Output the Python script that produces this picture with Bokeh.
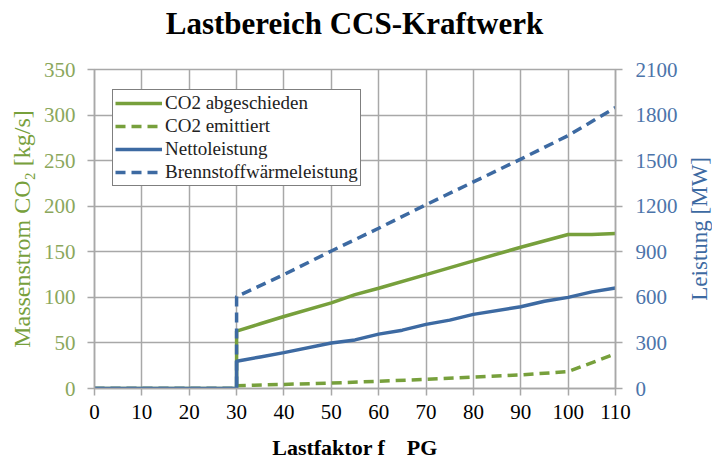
from bokeh.plotting import figure
from bokeh.models import (Range1d, LinearAxis, FixedTicker, Legend, LegendItem, Div)
from bokeh.layouts import column, row
from bokeh.embed import file_html
from bokeh.resources import INLINE

# ---- data ----
x_co2_sep = [0, 30, 30, 35, 40, 50, 55, 60, 70, 80, 90, 100, 105, 110]
co2_sep = [0, 0, 63, 71, 79, 94, 103, 110, 125, 140, 155, 169, 169, 170]  # kg/s

x_co2_emit = [0, 30, 30, 40, 50, 60, 70, 80, 90, 100, 110]
co2_emit = [0, 0, 3, 4.5, 6, 8, 10, 12.5, 15, 18.5, 38]  # kg/s

x_net = [0, 30, 30, 35, 40, 50, 55, 60, 65, 70, 75, 80, 90, 95, 100, 105, 110]
net_power = [0, 0, 180, 208, 236, 300, 320, 358, 384, 422, 450, 488, 538, 574, 600, 636, 662]  # MW

x_fuel = [0, 30, 30, 40, 50, 60, 70, 80, 90, 100, 110]
fuel_power = [0, 0, 605, 750, 905, 1055, 1210, 1360, 1510, 1665, 1850]  # MW

x_ticks = list(range(0, 111, 10))
left_ticks = list(range(0, 351, 50))
right_ticks = list(range(0, 2101, 300))

labels = ["CO2 abgeschieden", "CO2 emittiert", "Nettoleistung", "Brennstoffwärmeleistung"]
title_text = "Lastbereich CCS-Kraftwerk"
x_label = "Lastfaktor f\u00a0\u00a0\u00a0\u00a0PG"
left_label = "Massenstrom CO\u2082 [kg/s]"
right_label = "Leistung [MW]"

GREEN = "#77A03C"
BLUE = "#3D6AA2"
GREEN_TXT = "#8BA75C"
BLUE_TXT = "#4C74AA"
GRID = "#a8a8a8"
FONT = "Liberation Serif"

TITLE_H = 40
RIGHT_W = 30
FIG_W = 713 - RIGHT_W
FIG_H = 465 - TITLE_H

p = figure(width=FIG_W, height=FIG_H, frame_width=521, frame_height=319,
           min_border_left=94, min_border_right=FIG_W - 94 - 521,
           min_border_top=69 - TITLE_H, min_border_bottom=FIG_H - (69 - TITLE_H) - 319,
           x_range=Range1d(0, 110), y_range=Range1d(0, 350),
           output_backend="svg", toolbar_location=None)
p.extra_y_ranges = {"mw": Range1d(0, 2100)}

p.background_fill_color = "white"
p.border_fill_color = "white"
p.outline_line_color = GRID
p.outline_line_width = 1.5

# axes
xa = p.xaxis[0]
xa.ticker = FixedTicker(ticks=x_ticks)
xa.axis_label = x_label
ya = p.yaxis[0]
ya.ticker = FixedTicker(ticks=left_ticks)
ya.axis_label = left_label

ra = LinearAxis(y_range_name="mw", ticker=FixedTicker(ticks=right_ticks))
p.add_layout(ra, "right")

for ax in (xa, ya, ra):
    ax.axis_line_color = GRID
    ax.axis_line_width = 1.5
    ax.major_tick_line_color = GRID
    ax.major_tick_line_width = 1.5
    ax.major_tick_in = 0
    ax.major_tick_out = 7
    ax.minor_tick_line_color = None
    ax.major_label_text_font = FONT
    ax.major_label_text_font_size = "21px"
    ax.axis_label_text_font = FONT
    ax.axis_label_text_font_style = "normal"
    ax.axis_label_text_font_size = "24px"

xa.major_label_text_color = "black"
xa.major_label_standoff = 9
xa.axis_label_text_font_style = "bold"
xa.axis_label_text_font_size = "22px"
xa.axis_label_text_color = "black"
xa.axis_label_standoff = 13

ya.major_label_text_color = GREEN_TXT
ya.axis_label_text_color = GREEN
ya.major_label_standoff = 12
ya.axis_label_standoff = 6

ra.major_label_text_color = BLUE_TXT
ra.major_label_standoff = 13

p.xgrid.ticker = FixedTicker(ticks=x_ticks)
p.ygrid.ticker = FixedTicker(ticks=left_ticks)
for g in (p.xgrid[0], p.ygrid[0]):
    g.grid_line_color = GRID
    g.grid_line_width = 1.5

LW = 3.5
r_emit = p.line(x_co2_emit, co2_emit, line_color=GREEN, line_width=LW, line_dash="10 6")
r_sep = p.line(x_co2_sep, co2_sep, line_color=GREEN, line_width=LW)
r_fuel = p.line(x_fuel, fuel_power, line_color=BLUE, line_width=LW, line_dash="10 6",
                y_range_name="mw")
r_net = p.line(x_net, net_power, line_color=BLUE, line_width=LW, y_range_name="mw")

legend = Legend(items=[LegendItem(label=labels[0], renderers=[r_sep]),
                       LegendItem(label=labels[1], renderers=[r_emit]),
                       LegendItem(label=labels[2], renderers=[r_net]),
                       LegendItem(label=labels[3], renderers=[r_fuel])],
                location=(18, 202))
legend.label_text_font = FONT
legend.label_text_font_size = "19px"
legend.label_text_color = "#222222"
legend.glyph_width = 47
legend.glyph_height = 20
legend.label_height = 20
legend.label_standoff = 3
legend.spacing = 1
legend.padding = 2
legend.margin = 0
legend.border_line_color = "black"
legend.border_line_width = 1
legend.background_fill_alpha = 1
p.add_layout(legend, "center")

# title above the chart (centred over the plot frame)
title_div = Div(
    text=(f'<div style="width:713px;box-sizing:border-box;padding:8px 4px 0 0;'
          f'text-align:center;font-family:\'{FONT}\';font-weight:bold;font-size:31px;'
          f'line-height:31px;color:black;white-space:nowrap;">{title_text}</div>'),
    width=713, height=TITLE_H, margin=(0, 0, 0, 0))

# right axis title, reading bottom-to-top, centred on the plot frame
frame_center = (69 - TITLE_H) + 319 / 2
right_div = Div(
    text=(f'<div style="width:{RIGHT_W}px;height:{2 * frame_center:.0f}px;box-sizing:border-box;'
          f'padding-left:3px;display:flex;align-items:center;justify-content:center;">'
          f'<span style="writing-mode:vertical-rl;transform:rotate(180deg);'
          f'font-family:\'{FONT}\';font-size:23px;line-height:23px;color:{BLUE};'
          f'white-space:nowrap;">{right_label}</span></div>'),
    width=RIGHT_W, height=FIG_H, margin=(0, 0, 0, 0))

layout = column(title_div, row(p, right_div, spacing=0), spacing=0)

open("out.html", "w").write(file_html(layout, INLINE))
